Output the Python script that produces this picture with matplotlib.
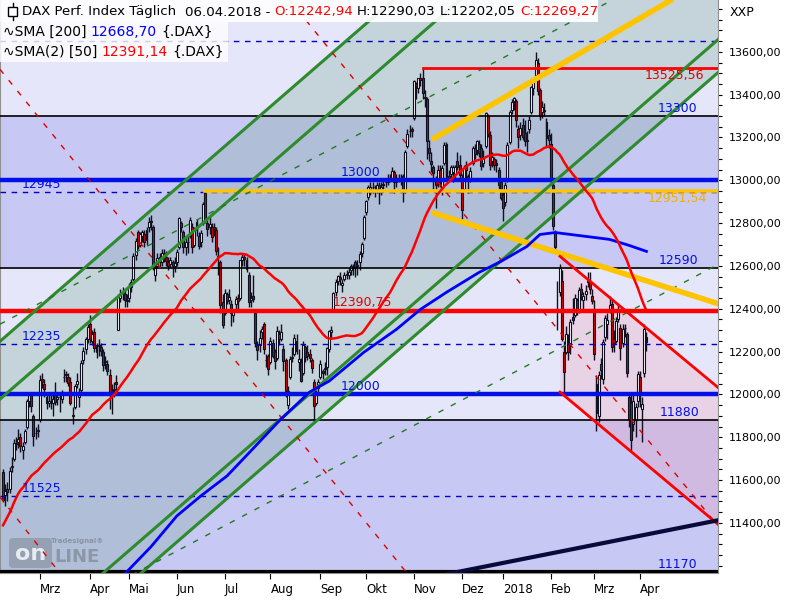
# DAX daily candles with trend channels, levels and SMAs (Tradesignal style)
import numpy as np, pandas as pd
import matplotlib
matplotlib.use("Agg")
import matplotlib.pyplot as plt
import matplotlib.transforms as mtrans
from matplotlib.patches import Rectangle, FancyBboxPatch
from matplotlib.ticker import FuncFormatter

plt.rcParams['font.family'] = ['DejaVu Sans']

# ── Data ─────────────────────────────────────────────────────────────────────
holidays = ["2017-04-14", "2017-04-17", "2017-05-01", "2017-12-25",
            "2017-12-26", "2018-01-01", "2018-03-30", "2018-04-02"]
dates = pd.bdate_range("2017-02-06", "2018-04-06").difference(pd.to_datetime(holidays))

opens = [
    11640,11530,11560,11560,11660,11700,11770,11780,11800,11740,11780,11850,11970,12000,11900,11820,11830,
    11880,12070,12050,11990,11960,11970,11960,12000,11980,11990,11980,12080,12090,12080,12060,11900,11940,12050,11990,12020,12160,12210,12260,
    12330,12250,12290,12200,12230,12220,12200,12150,12140,12090,12020,12020,12060,12300,12450,12480,12470,12440,
    12450,12500,12540,12650,12760,12700,12740,12750,12720,12780,12810,12780,12560,12600,12640,12620,12660,12640,12620,12610,12620,12600,
    12620,12690,12800,12760,12690,12710,12740,12780,12700,12770,12740,12710,12800,12940,12800,12780,12780,12780,12770,12640,12620,12430,
    12380,12470,12440,12420,12370,12420,12450,12450,12630,12640,12630,12560,12440,12460,12380,12230,12230,12290,12330,12160,12180,
    12150,12240,12200,12170,12280,12260,12210,12160,11950,12080,12170,12190,12250,12150,12150,12100,12220,12200,12190,12160,12060,11960,12030,
    12080,12110,12120,12130,12210,12290,12400,12480,12530,12550,12510,12540,12560,12560,12580,12590,12620,12600,12620,12660,12730,
    12850,12920,12960,12970,12950,12960,12980,12950,12980,12990,12990,13010,13010,13040,13010,13010,13000,13020,12950,13160,13230,13240,
    13290,13450,13430,13480,13480,13390,13380,13150,13090,13060,13000,12990,13050,12950,13080,13170,13020,13030,13040,13030,13090,13070,
    13010,12960,13070,13020,13010,13080,13150,13140,13170,13150,13080,13160,13300,13210,13090,13100,13080,13050,12990,
    12930,12900,13000,13180,13330,13370,13370,13240,13210,13260,13220,13190,13240,13320,13430,13490,13550,13420,13320,13330,13270,13210,
    13170,12980,12760,12400,12480,12530,12200,12200,12240,12240,12360,12370,12440,12390,12490,12440,12470,12530,12530,12460,
    12400,12050,11900,12140,12070,12270,12330,12400,12420,12260,12250,12350,12310,12240,12310,12280,11990,11960,11860,11880,11970,
    12080,11930,12100,12243]
highs = [
    11650,11580,11590,11660,11710,11790,11800,11840,11820,11780,11840,11980,12010,12010,11910,11850,11860,
    12090,12100,12070,12010,12000,12010,12000,12060,12010,12000,12020,12120,12110,12100,12080,11940,12050,12100,12030,12160,12220,12270,12330,
    12370,12300,12310,12240,12260,12240,12210,12180,12160,12120,12050,12060,12090,12470,12490,12500,12490,12470,
    12520,12540,12660,12730,12770,12760,12770,12770,12780,12830,12840,12790,12620,12660,12660,12680,12680,12670,12640,12640,12630,12640,
    12680,12830,12810,12770,12730,12750,12830,12800,12780,12820,12760,12770,12900,12952,12820,12830,12800,12800,12780,12690,12630,12470,
    12490,12480,12490,12440,12400,12460,12470,12630,12660,12660,12640,12570,12480,12560,12400,12250,12300,12320,12340,12190,12190,
    12270,12260,12210,12320,12300,12330,12230,12170,12040,12180,12220,12280,12280,12210,12170,12250,12230,12230,12210,12170,12070,12020,12070,
    12160,12120,12150,12220,12300,12320,12480,12540,12560,12570,12540,12570,12580,12590,12610,12610,12630,12630,12670,12710,12840,
    12910,12980,12990,12990,12980,12990,12990,12990,13010,13010,13030,13030,13060,13050,13030,13030,13030,13030,13140,13240,13260,13250,
    13470,13460,13480,13500,13526,13420,13390,13190,13130,13070,13020,13070,13070,13070,13180,13180,13050,13070,13070,13070,13130,13120,
    13030,13070,13090,13030,13060,13160,13170,13190,13190,13170,13140,13320,13310,13230,13130,13110,13100,13060,13000,
    12950,12990,13180,13330,13380,13390,13380,13260,13270,13290,13280,13230,13300,13440,13480,13597,13570,13430,13370,13360,13290,13240,
    13220,12990,12770,12530,12610,12580,12250,12320,12280,12350,12450,12470,12450,12500,12520,12480,12510,12570,12570,12490,
    12440,12090,12110,12170,12260,12370,12380,12460,12440,12300,12360,12420,12330,12330,12330,12290,12010,12010,12010,11960,12110,
    12110,11990,12330,12290]
lows = [
    11499,11480,11500,11540,11640,11690,11740,11750,11730,11700,11770,11840,11940,11920,11760,11790,11800,
    11870,12030,11990,11930,11940,11930,11900,11950,11950,11920,11960,12060,12060,12040,11950,11860,11930,12030,11940,12010,12140,12190,12240,
    12240,12230,12200,12170,12180,12180,12110,12120,12090,11930,11910,11990,12010,12300,12430,12440,12410,12410,
    12430,12480,12530,12630,12680,12690,12710,12690,12700,12760,12770,12580,12530,12590,12590,12600,12620,12600,12580,12590,12550,12570,
    12600,12680,12760,12660,12650,12660,12730,12660,12690,12740,12680,12690,12790,12800,12740,12750,12710,12740,12650,12560,12380,12310,
    12370,12420,12420,12320,12340,12400,12400,12440,12600,12600,12570,12410,12410,12430,12220,12160,12200,12260,12190,12130,12090,
    12140,12170,12120,12160,12230,12250,12110,11990,11930,12070,12150,12180,12190,12110,12060,12090,12150,12160,12150,12100,11868,11950,12010,
    12070,12070,12090,12090,12200,12260,12390,12460,12510,12510,12480,12530,12540,12540,12560,12560,12550,12560,12580,12640,12720,
    12840,12910,12930,12940,12920,12940,12890,12930,12960,12970,12980,12990,13000,12940,12970,12990,12980,12900,12940,13150,13200,13200,
    13280,13380,13410,13440,13380,13340,13100,13090,13040,12960,12870,12970,12970,12930,13070,13010,12990,13000,12990,13010,13050,13010,
    12820,12950,13010,12940,12990,13070,13100,13120,13110,13050,13060,13150,13200,13050,13060,13050,13040,12960,12910,
    12810,12880,12990,13170,13310,13330,13250,13150,13190,13190,13160,13130,13220,13310,13400,13470,13400,13280,13290,13300,13160,13150,
    12980,12770,12660,12300,12460,12250,12000,12190,12160,12190,12330,12360,12370,12380,12440,12400,12440,12500,12470,12420,
    12160,11830,11870,12070,12050,12250,12260,12380,12200,12200,12240,12340,12160,12220,12270,12080,11850,11730,11830,11800,11940,
    11940,11780,12080,12202]
closes = [
    11509,11549,11543,11643,11666,11774,11771,11793,11757,11757,11827,11967,11998,11947,11804,11822,11834,
    12067,12060,12027,11959,11967,11967,11979,11963,11990,11988,12009,12083,12095,12052,11962,11904,12040,12064,12009,12149,12203,12257,12313,
    12257,12282,12218,12230,12225,12201,12139,12154,12109,12000,12016,12027,12049,12455,12467,12473,12443,12438,
    12507,12527,12648,12716,12694,12749,12757,12711,12770,12807,12804,12591,12590,12638,12620,12659,12643,12622,12602,12628,12599,12615,
    12664,12822,12780,12690,12714,12713,12816,12690,12765,12806,12692,12753,12889,12814,12774,12794,12733,12771,12671,12647,12416,12325,
    12475,12437,12453,12381,12389,12445,12437,12626,12641,12631,12587,12430,12452,12447,12240,12208,12264,12305,12212,12162,12118,
    12251,12181,12154,12298,12257,12293,12154,12014,12014,12165,12177,12263,12203,12165,12065,12230,12174,12180,12168,12123,11946,12002,12056,
    12143,12102,12123,12215,12296,12303,12475,12524,12554,12540,12519,12559,12561,12570,12600,12592,12594,12605,12657,12704,12829,
    12903,12970,12971,12968,12956,12976,12949,12970,12983,12992,13004,13003,13043,12990,12991,13003,13013,12953,13133,13217,13229,13230,
    13465,13440,13479,13468,13406,13382,13183,13127,13074,13034,12976,13047,12994,13058,13167,13015,13008,13060,13060,13060,13062,13024,
    12861,13059,13048,12998,13045,13153,13123,13183,13126,13068,13103,13312,13216,13070,13110,13072,13070,12979,12918,
    12871,12978,13167,13319,13367,13385,13281,13202,13245,13201,13183,13184,13281,13434,13463,13560,13415,13298,13340,13324,13198,13189,
    13004,12785,12687,12392,12590,12260,12107,12282,12196,12339,12346,12452,12385,12487,12470,12461,12483,12527,12490,12436,
    12190,11914,12090,12113,12245,12355,12346,12418,12221,12238,12345,12390,12217,12307,12309,12100,11886,11787,11970,11940,12096,
    12002,11957,12305,12269]
# closes 28.11.2016 - 03.02.2017, only used to warm up the 50-day SMA
warmup_closes = [
    10582,10620,10640,
    10534,10513,10684,10775,10986,11180,11203,11190,11284,11244,11366,11404,11427,11464,11468,11456,11449,11472,11474,11451,11481,
    11598,11584,11584,11585,11599,11563,11583,11646,11521,11629,11555,11540,11599,11603,11630,11545,11594,11806,11848,11814,11682,11535,
    11659,11627,11651]

# SMA 200 (bar position, value)
sma200_pos = [56, 68, 80, 91, 103, 114, 127, 141, 150, 166, 181, 192, 204, 219, 229, 241, 247, 254, 265, 279, 288, 296]
sma200_val = [11162, 11288, 11433, 11526, 11619, 11736, 11876, 12011, 12062, 12197, 12304, 12397, 12477,
              12570, 12621, 12691, 12747, 12756, 12742, 12724, 12696, 12668]

# trend lines: two anchors (bar position, price)
span_x = [-1.4, 329.8]
green_upper  = [12248, 15166]
green_inner1 = [11978, 14896]
green_inner2 = [10748, 13665]
green_lower  = [10594, 13511]
green_dash1  = [12328, 14108]
green_dash2  = [10831, 12612]
yellow_x, yellow_up, yellow_down = [197.3, 329.8], [13190, 13975], [12850, 12421]
redch_x, redch_up, redch_down = [256.2, 329.8], [12645, 12025], [12011, 11386]
reddash_x = [[-1.4, 27.1], [-1.4, 187.2], [127.4, 329.8]]
reddash_y = [[11521, 11153], [13518, 11148], [13896, 11374]]
base_x, base_y = [204.7, 329.8], [11162, 11414]

month_labels = ["Mrz", "Apr", "Mai", "Jun", "Jul", "Aug", "Sep", "Okt",
                "Nov", "Dez", "2018", "Feb", "Mrz", "Apr"]

# ── Derived series ───────────────────────────────────────────────────────────
o, h, l, c = (np.array(v, float) for v in (opens, highs, lows, closes))
idx = np.arange(len(c))
sma50 = pd.Series(warmup_closes + closes).rolling(50).mean().values[len(warmup_closes):]
month_pos = [i for i in range(1, len(dates)) if dates[i].month != dates[i-1].month]

def line_y(xa, ya, xs):
    xs = np.asarray(xs, float)
    return ya[0] + (ya[1]-ya[0]) * (xs - xa[0]) / (xa[1] - xa[0])

# ── Figure ───────────────────────────────────────────────────────────────────
W, H = 800, 600
fig = plt.figure(figsize=(8, 6), dpi=100, facecolor="white")
ax = fig.add_axes([0, 27/H, 718/W, 573/H])
X0, X1, Y0, Y1 = -1.4, 328.9, 11166, 13842
ax.set_xlim(X0, X1); ax.set_ylim(Y0, Y1)

LIGHT, DARK = "#e6e6fa", "#c8c8f4"
ax.set_facecolor(LIGHT)
ax.axhspan(12590, 13300, color=DARK, lw=0, zorder=0)
ax.axhspan(Y0 - 50, 11880, color=DARK, lw=0, zorder=0)

xs = np.array([X0, X1])
ax.fill_between(xs, line_y(span_x, green_upper, xs), line_y(span_x, green_lower, xs),
                color="#7baa96", alpha=0.30, lw=0, zorder=0.5)
xr = np.array([redch_x[0], X1])
ax.fill_between(xr, line_y(redch_x, redch_up, xr), line_y(redch_x, redch_down, xr),
                color="#f08ca0", alpha=0.22, lw=0, zorder=0.6)

# watermark
ax.add_patch(FancyBboxPatch((9/W, 1-568/H), 43/W, 30/H, transform=fig.transFigure,
             boxstyle="round,pad=0,rounding_size=0.006", fc="#7f8a96", ec="none",
             alpha=0.55, zorder=1))
ax.text(30.5/W, 1-554/H, "on", transform=fig.transFigure, color="#e8ecf0", fontsize=16,
        fontweight="bold", ha="center", va="center", zorder=1)
ax.text(54/W, 1-557/H, "LINE", transform=fig.transFigure, color="#7f8a96", alpha=0.75,
        fontsize=13, fontweight="bold", ha="left", va="center", zorder=1)
ax.text(51/W, 1-541/H, "Tradesignal®", transform=fig.transFigure, color="#7f8a96",
        alpha=0.8, fontsize=5, fontweight="bold", ha="left", va="center", zorder=1)

# ── Candles ──────────────────────────────────────────────────────────────────
up = c >= o
ax.vlines(idx, l, h, color="#101020", lw=1.0, zorder=3)
ax.bar(idx[up], (c-o)[up], bottom=o[up], width=0.9, color="white",
       edgecolor="#101020", lw=0.8, zorder=3.1)
ax.bar(idx[~up], (o-c)[~up], bottom=c[~up], width=0.9, color="#d80000",
       edgecolor="#101020", lw=0.8, zorder=3.1)

# ── Levels ───────────────────────────────────────────────────────────────────
BLUE, NAVY, RED, GOLD, GREEN = "#0010e6", "#0000c0", "#ff0000", "#ffc400", "#2d8b2d"
dash = (0, (4, 4))
ax.axhline(13300, color="black", lw=1.2, zorder=4)
ax.axhline(12590, color="black", lw=1.2, zorder=4)
ax.axhline(11880, color="black", lw=1.2, zorder=4)
ax.axhline(11170, color="black", lw=3.0, zorder=4)
ax.axhline(13000, color=BLUE, lw=3.2, zorder=4)
ax.axhline(12000, color=BLUE, lw=3.2, zorder=4)
ax.axhline(12390.75, color=RED, lw=3.2, zorder=4)
for lv in (13650, 12945, 12235, 11525):
    ax.axhline(lv, color=NAVY, lw=1.0, ls=dash, zorder=4)
ax.plot([93, X1], [12951.54, 12951.54], color=GOLD, lw=2.6, zorder=4)
ax.plot([193, X1], [13525.56, 13525.56], color=RED, lw=2.0, zorder=4)

# ── Trend lines ──────────────────────────────────────────────────────────────
for ln in (green_upper, green_inner1, green_inner2, green_lower):
    ax.plot(span_x, ln, color=GREEN, lw=2.2, zorder=4)
for ln in (green_dash1, green_dash2):
    ax.plot(span_x, ln, color="#1f7a1f", lw=1.0, ls=(0, (4, 6)), zorder=4)
for rx, ry in zip(reddash_x, reddash_y):
    ax.plot(rx, ry, color="#e00000", lw=1.0, ls=(0, (4, 6)), zorder=4)
ax.plot(yellow_x, yellow_up, color=GOLD, lw=4.0, zorder=4, solid_capstyle="butt")
ax.plot(yellow_x, yellow_down, color=GOLD, lw=4.0, zorder=4, solid_capstyle="butt")
ax.plot(redch_x, redch_up, color=RED, lw=2.0, zorder=4)
ax.plot(redch_x, redch_down, color=RED, lw=2.0, zorder=4)
ax.plot(base_x, base_y, color="#0a0a3a", lw=3.0, zorder=4)

# ── SMAs ─────────────────────────────────────────────────────────────────────
ax.plot(sma200_pos, sma200_val, color="#0000ff", lw=2.0, zorder=5)
ax.plot(idx, sma50, color="#ff0000", lw=1.8, zorder=5)

# ── Level labels ─────────────────────────────────────────────────────────────
def lab(x, y, s, col=BLUE, below=False):
    ax.annotate(s, xy=(x, y), xytext=(0, -1 if below else 1), textcoords="offset points",
                va="top" if below else "bottom", ha="left", color=col, fontsize=9, zorder=6)
lab(301.3, 13300, "13300")
lab(155.5, 13000, "13000")
lab(8.7, 12945, "12945")
lab(296.7, 12951.54, "12951,54", col="#f0b000", below=True)
lab(295.3, 13525.56, "13525,56", col="#e00000", below=True)
lab(301.7, 12590, "12590")
lab(151.8, 12390.75, "12390,75", col="#e00000")
lab(8.7, 12235, "12235")
lab(155.5, 12000, "12000")
lab(302.2, 11880, "11880")
lab(8.7, 11525, "11525")
lab(301.3, 11170, "11170")

# ── Axes ─────────────────────────────────────────────────────────────────────
ax.yaxis.tick_right()
ax.set_yticks(np.arange(11400, 13601, 200))
ax.set_yticks(np.arange(11200, 13801, 50), minor=True)
ax.yaxis.set_major_formatter(FuncFormatter(lambda v, p: f"{v:.2f}".replace(".", ",")))
ax.tick_params(axis="y", which="both", direction="out", length=3, width=0.8,
               labelsize=8, pad=5)
ax.set_xticks(month_pos)
ax.set_xticklabels(month_labels, ha="left", fontsize=8.5)
off = mtrans.ScaledTranslation(1/72, 0, fig.dpi_scale_trans)
for t in ax.get_xticklabels():
    t.set_transform(t.get_transform() + off)
ax.tick_params(axis="x", direction="out", length=4, width=0.8, pad=3)
for s in ("left", "right", "bottom"):
    ax.spines[s].set_color("#909090")
ax.spines["top"].set_visible(False)
fig.text(730/W, 1-12/H, "XXP", fontsize=9, va="center", ha="left")

# ── Legend header ────────────────────────────────────────────────────────────
for (x, y, w, hh, a) in [(0, 0, 598, 22, 0.92), (0, 22, 228, 20, 0.8), (0, 42, 228, 20, 0.8)]:
    fig.add_artist(Rectangle((x/W, 1-(y+hh)/H), w/W, hh/H, transform=fig.transFigure,
                             fc="white", ec="none", alpha=a, zorder=8))
fig.add_artist(Rectangle((8/W, 1-16/H), 9/W, 9/H, transform=fig.transFigure,
                         fc="white", ec="black", lw=1, zorder=9))
fig.add_artist(plt.Line2D([12.5/W, 12.5/W], [1-20/H, 1-3/H], transform=fig.transFigure,
                          color="black", lw=1, zorder=8.5))

rend = fig.canvas.get_renderer()
def seg_text(parts, x_px, y_px, size=10):
    probe = fig.text(0, 0, "a a", fontsize=size); w2 = probe.get_window_extent(rend).width
    probe.set_text("aa"); sp = w2 - probe.get_window_extent(rend).width; probe.remove()
    x = x_px
    for s, col, gaps in parts:
        t = fig.text(x/W, 1-y_px/H, s, color=col, fontsize=size, va="center", ha="left", zorder=10)
        x += t.get_window_extent(rend).width + gaps*sp

seg_text([("DAX Perf. Index Täglich", "black", 2), ("06.04.2018 -", "black", 1),
          ("O:12242,94", "#ff0000", 1), ("H:12290,03", "black", 1),
          ("L:12202,05", "black", 1), ("C:12269,27", "#ff0000", 0)], 22, 12, size=9.6)
seg_text([("∿SMA [200]", "black", 1), ("12668,70", "#0000ff", 1), ("{.DAX}", "black", 0)], 3, 32)
seg_text([("∿SMA(2) [50]", "black", 1), ("12391,14", "#ff0000", 1), ("{.DAX}", "black", 0)], 3, 52)

fig.savefig("out.png", dpi=100)
